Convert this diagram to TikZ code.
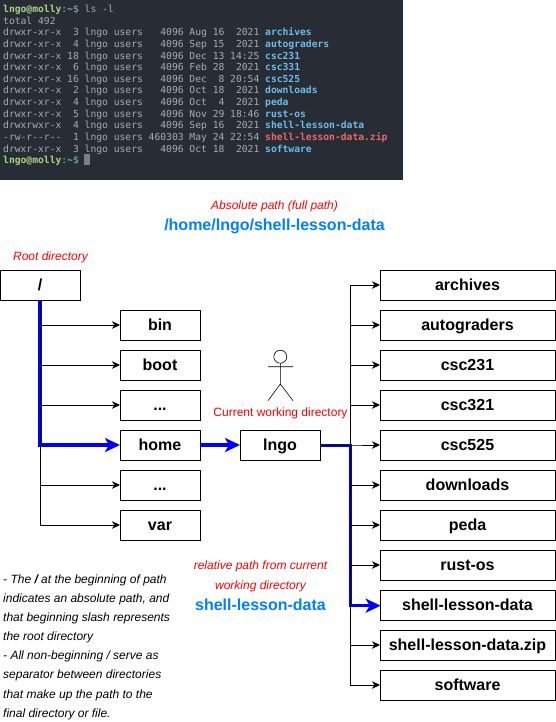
\documentclass[tikz,border=0pt]{standalone}
\usepackage{fontspec}
\setmainfont{Liberation Sans}
\newfontfamily\termfont{DejaVu Sans Mono}
\definecolor{term}{RGB}{40, 44, 52}
\definecolor{termtext}{RGB}{168, 172, 178}
\definecolor{termgreen}{RGB}{170, 212, 130}
\definecolor{termblue}{RGB}{105, 190, 235}
\definecolor{termred}{RGB}{235, 105, 110}
\definecolor{termcursor}{RGB}{122, 127, 137}
\definecolor{pathblue}{RGB}{0, 127, 255}
\definecolor{pathline}{RGB}{0, 0, 255}
\newcommand{\dirname}[1]{\textcolor{termblue}{\bfseries #1}}
\newcommand{\prompt}{\textcolor{termgreen}{\bfseries lngo@molly}:\textcolor{termblue}{\bfseries\textasciitilde}\$}
\usetikzlibrary{arrows.meta, positioning, calc}

\begin{document}
\begin{tikzpicture}[
            x=1pt, y=-1pt,
            folder/.style={draw, line width=0.9pt, outer sep=0pt, minimum width=80pt, minimum height=30pt, inner sep=0pt, text height=12pt, text depth=2pt, font=\fontsize{16}{18}\selectfont\bfseries},
            wide/.style={folder, minimum width=175pt},
            redlabel/.style={text=red, inner sep=0pt, font=\fontsize{12}{14}\selectfont\itshape},
            pathlabel/.style={text=pathblue, inner sep=0pt, font=\fontsize{16}{18}\selectfont\bfseries},
            branch/.style={-{Stealth[length=8pt, width=7.5pt, inset=2.5pt]}, line width=0.85pt},
            blueline/.style={line width=3.4pt, pathline},
            bluearr/.style={blueline, -{Stealth[length=15pt, width=14pt, inset=4pt]}}
        ]
            \useasboundingbox (0,0) rectangle (556,722);
            % terminal
            \node[fill=term, anchor=north west, minimum width=403pt, minimum height=180pt, inner sep=0pt] (screen) at (0,0) {};
            \node[anchor=north west, inner sep=0pt, align=left, text=termtext, font=\termfont\fontsize{9.67}{11.62}\selectfont] (listing) at (3,5) {%
                \prompt\ ls -l\\
                total 492\\
                drwxr-xr-x~~3 lngo users~~~4096 Aug 16~~2021 \dirname{archives}\\
                drwxr-xr-x~~4 lngo users~~~4096 Sep 15~~2021 \dirname{autograders}\\
                drwxr-xr-x 18 lngo users~~~4096 Dec 13 14:25 \dirname{csc231}\\
                drwxr-xr-x~~6 lngo users~~~4096 Feb 28~~2021 \dirname{csc331}\\
                drwxr-xr-x 16 lngo users~~~4096 Dec~~8 20:54 \dirname{csc525}\\
                drwxr-xr-x~~2 lngo users~~~4096 Oct 18~~2021 \dirname{downloads}\\
                drwxr-xr-x~~4 lngo users~~~4096 Oct~~4~~2021 \dirname{peda}\\
                drwxr-xr-x~~5 lngo users~~~4096 Nov 29 18:46 \dirname{rust-os}\\
                drwxrwxr-x~~4 lngo users~~~4096 Sep 16~~2021 \dirname{shell-lesson-data}\\
                -rw-r--r--~~1 lngo users 460303 May 24 22:54 \textcolor{termred}{\bfseries shell-lesson-data.zip}\\
                drwxr-xr-x~~3 lngo users~~~4096 Oct 18~~2021 \dirname{software}\\
                \prompt
            };
            \node[fill=termcursor, minimum width=6pt, minimum height=11pt, inner sep=0pt] (cursor) at (87,159.5) {};
            % headings
            \node[redlabel] (abslabel) at (274.5,206) {Absolute path (full path)};
            \node[pathlabel, below=7pt of abslabel] (abspath) {/home/lngo/shell-lesson-data};
            \node[redlabel] (rootlabel) at (50.5,257) {Root directory};
            % left tree
            \node[folder] (root) at (40,285) {/};
            \node[folder] (bin) at (160,325) {bin};
            \node[folder, below=10pt of bin] (boot) {boot};
            \node[folder, below=10pt of boot] (dotsa) {...};
            \node[folder, below=10pt of dotsa] (home) {home};
            \node[folder, below=10pt of home] (dotsb) {...};
            \node[folder, below=10pt of dotsb] (var) {var};
            \node[folder, right=40pt of home] (lngo) {lngo};
            % person
            \draw[line width=0.6pt] (280.3,356.7) circle (6.5);
            \coordinate (neck) at (280.3,363.2);
            \coordinate (hip) at (280.3,384);
            \draw[line width=0.6pt] (neck) -- (hip) (268,366.7) -- (293,366.7) (hip) -- (268,400.7) (hip) -- (293,400.7);
            \node[redlabel, font=\fontsize{12}{14}\selectfont] (cwdlabel) at (280.5,413.5) {Current working directory};
            % right column
            \node[wide] (archives) at (467.5,285) {archives};
            \node[wide, below=10pt of archives] (autograders) {autograders};
            \node[wide, below=10pt of autograders] (csca) {csc231};
            \node[wide, below=10pt of csca] (cscb) {csc321};
            \node[wide, below=10pt of cscb] (cscc) {csc525};
            \node[wide, below=10pt of cscc] (downloads) {downloads};
            \node[wide, below=10pt of downloads] (peda) {peda};
            \node[wide, below=10pt of peda] (rustos) {rust-os};
            \node[wide, below=10pt of rustos] (lessondata) {shell-lesson-data};
            \node[wide, below=10pt of lessondata] (lessonzip) {shell-lesson-data.zip};
            \node[wide, below=10pt of lessonzip] (software) {software};
            % connectors
            \draw[bluearr] (root.south) |- (home.west);
            \draw[bluearr] (home) -- (lngo);
            \draw[bluearr, transform canvas={xshift=0.7pt, yshift=-0.7pt}] (lngo.east) -- ++(30,0) |- (lessondata.west);
            \foreach \target in {bin, boot, dotsa, dotsb, var}
                \draw[branch] (root.south) |- (\target.west);
            \foreach \target in {archives, autograders, csca, cscb, cscc, downloads, peda, rustos, lessonzip, software}
                \draw[branch] (lngo.east) -- ++(30,0) |- (\target.west);
            % bottom text
            \node[redlabel, align=center, font=\fontsize{12}{20}\selectfont\itshape] (rellabel) at (260.5,576.5) {relative path from current\\working directory};
            \node[pathlabel] (relpath) at (260.5,604.5) {shell-lesson-data};
            \node[anchor=north west, inner sep=0pt, align=left, font=\fontsize{12}{19.1}\selectfont\itshape] (notes) at (3,574.5) {%
                - The \textbf{/} at the beginning of path\\
                indicates an absolute path, and\\
                that beginning slash represents\\
                the root directory\\
                - All non-beginning / serve as\\
                separator between directories\\
                that make up the path to the\\
                final directory or file.
            };
        \end{tikzpicture}
\end{document}
